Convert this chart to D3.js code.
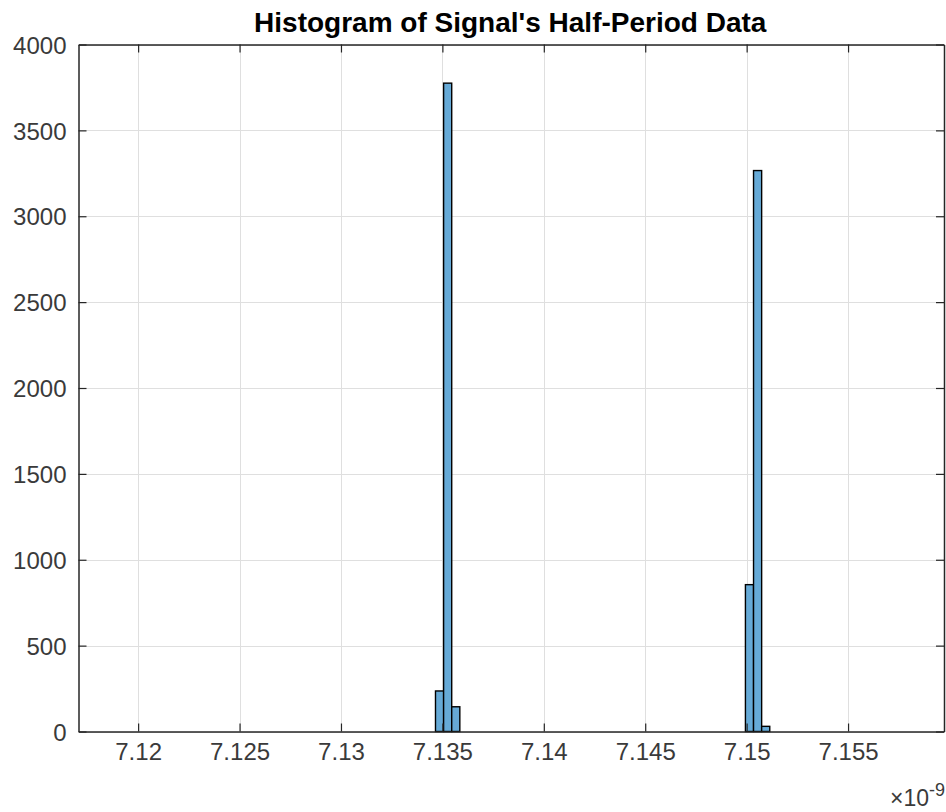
<!DOCTYPE html>
<html>
<head>
<meta charset="utf-8">
<script src="https://cdn.jsdelivr.net/npm/d3@7"></script>
<style>
  html, body { margin: 0; padding: 0; background: #ffffff; }
  svg { display: block; }
  text { font-family: "Liberation Sans", Arial, Helvetica, sans-serif; }
</style>
</head>
<body>
<svg id="chart" width="946" height="812"></svg>
<script>
// ---- data (x in units of 1e-9 s) ----
const titleText = "Signal's Half-Period Data";
const binEdgesA = [7.13466, 7.13506, 7.13546, 7.13586];
const countsA = [236, 3775, 144];
const binEdgesB = [7.14994, 7.15034, 7.15074, 7.15114];
const countsB = [855, 3266, 30];
const xTicks = [7.12, 7.125, 7.13, 7.135, 7.14, 7.145, 7.15, 7.155];
const xTickLabels = ["7.12", "7.125", "7.13", "7.135", "7.14", "7.145", "7.15", "7.155"];
const yTicks = [0, 500, 1000, 1500, 2000, 2500, 3000, 3500, 4000];
const xDomain = [7.11706, 7.15973];
const yDomain = [0, 4000];

const bins = [];
[[binEdgesA, countsA], [binEdgesB, countsB]].forEach(([edges, counts]) => {
  counts.forEach((c, i) => bins.push({ x0: edges[i], x1: edges[i + 1], count: c }));
});

const svg = d3.select("#chart");
const L = 78.5, R = 944, T = 44.5, B = 731.5;
const axisColor = "#262626";
const labelColor = "#3a3a3a";

const x = d3.scaleLinear().domain(xDomain).range([L, R]);
const y = d3.scaleLinear().domain(yDomain).range([B, T]);

// background
svg.append("rect").attr("x", L).attr("y", T).attr("width", R - L).attr("height", B - T).attr("fill", "#ffffff");

// grid
const grid = svg.append("g").attr("stroke", "#dfdfdf").attr("stroke-width", 1);
grid.selectAll("line.gx").data(xTicks).join("line")
  .attr("x1", d => Math.round(x(d)) + 0.5).attr("x2", d => Math.round(x(d)) + 0.5)
  .attr("y1", T).attr("y2", B);
grid.selectAll("line.gy").data(yTicks).join("line")
  .attr("y1", d => Math.round(y(d)) + 0.5).attr("y2", d => Math.round(y(d)) + 0.5)
  .attr("x1", L).attr("x2", R);

// bars
svg.append("g").selectAll("rect").data(bins).join("rect")
  .attr("x", d => x(d.x0))
  .attr("width", d => x(d.x1) - x(d.x0))
  .attr("y", d => y(d.count))
  .attr("height", d => y(0) - y(d.count))
  .attr("fill", "#66aad7")
  .attr("stroke", "#000000")
  .attr("stroke-width", 1.4);

// axes
const fmtX = d => xTickLabels[xTicks.indexOf(d)];
const xAxis = svg.append("g").attr("transform", `translate(0,${B})`)
  .call(d3.axisBottom(x).tickValues(xTicks).tickSizeInner(-8).tickSizeOuter(0).tickPadding(11).tickFormat(fmtX));
const xAxisTop = svg.append("g").attr("transform", `translate(0,${T})`)
  .call(d3.axisTop(x).tickValues(xTicks).tickSizeInner(-8).tickSizeOuter(0).tickFormat(""));
const yAxis = svg.append("g").attr("transform", `translate(${L},0)`)
  .call(d3.axisLeft(y).tickValues(yTicks).tickSizeInner(-8).tickSizeOuter(0).tickPadding(12).tickFormat(d3.format("d")));
const yAxisRight = svg.append("g").attr("transform", `translate(${R},0)`)
  .call(d3.axisRight(y).tickValues(yTicks).tickSizeInner(-8).tickSizeOuter(0).tickFormat(""));

[xAxis, xAxisTop, yAxis, yAxisRight].forEach(g => {
  g.select(".domain").attr("stroke", axisColor).attr("stroke-width", 1.5);
  g.selectAll(".tick line").attr("stroke", axisColor).attr("stroke-width", 1.2);
  g.selectAll(".tick text").attr("fill", labelColor).style("font-size", "24px")
    .style("font-family", "'Liberation Sans', Arial, sans-serif");
});
yAxis.selectAll(".tick text").attr("dy", "0.36em");

// exponent label
const exp = svg.append("text").attr("x", 945).attr("y", 806).attr("text-anchor", "end")
  .attr("fill", labelColor).style("font-size", "23px");
exp.append("tspan").text("\u00D710");
exp.append("tspan").attr("dy", -10).style("font-size", "18px").text("-9");

// title
svg.append("text").attr("x", (L + R) / 2 - 1).attr("y", 32).attr("text-anchor", "middle")
  .attr("fill", "#000000").style("font-size", "28px").style("font-weight", "bold")
  .text("Histogram of " + titleText);
</script>
</body>
</html>
